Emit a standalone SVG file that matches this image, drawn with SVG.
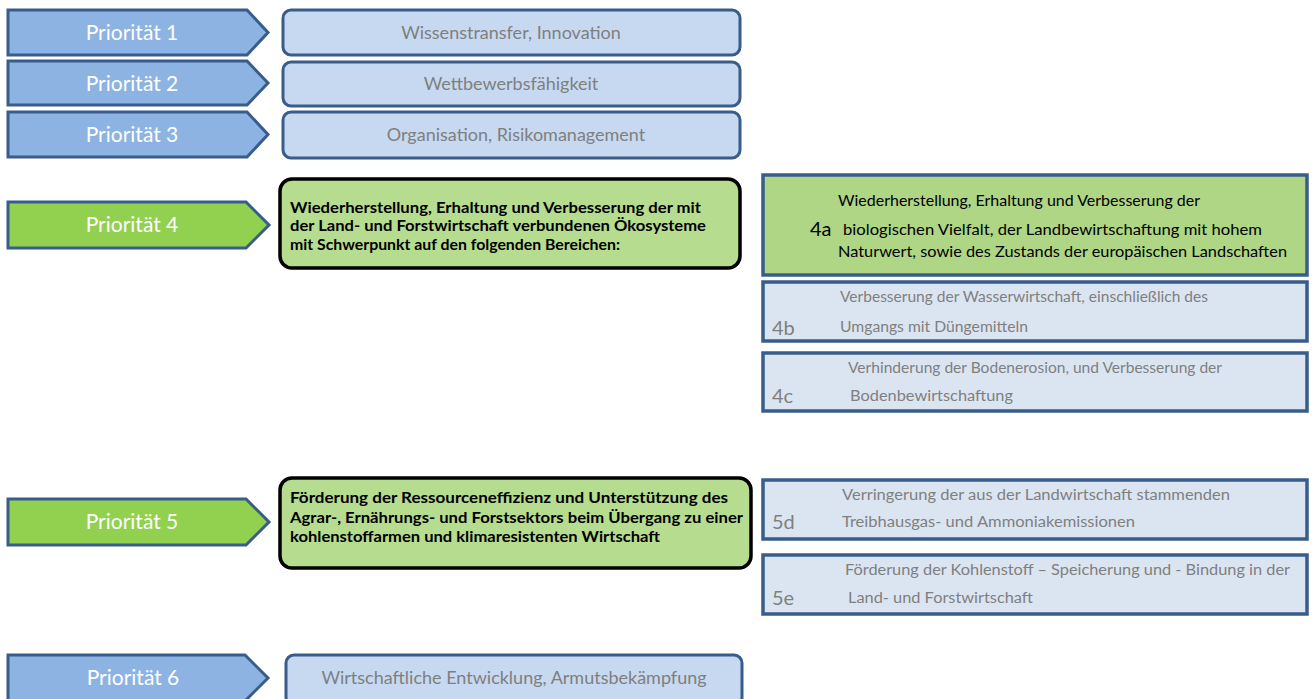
<svg xmlns="http://www.w3.org/2000/svg" width="1313" height="699" viewBox="0 0 1313 699">
<style>
.bg{fill:#ffffff}
.chev{fill:#8db3e2;stroke:#385d8a;stroke-width:3;stroke-linejoin:miter}
.chevg{fill:#92d050;stroke:#385d8a;stroke-width:3;stroke-linejoin:miter}
.box{fill:#c6d9f1;stroke:#385d8a;stroke-width:3}
.gbox{fill:#b6dc8f;stroke:#000000;stroke-width:3.5}
.abox{fill:#aed685;stroke:#385d8a;stroke-width:3.5}
.lbox{fill:#dbe5f1;stroke:#385d8a;stroke-width:3.5}
.ct{font-family:Lato,"Liberation Sans",sans-serif;font-size:21px;fill:#ffffff;text-anchor:middle}
.bt{font-family:Lato,"Liberation Sans",sans-serif;font-size:18px;fill:#7f7f7f;text-anchor:middle}
.kt{font-family:Lato,"Liberation Sans",sans-serif;font-size:15.5px;font-weight:bold;fill:#000000}
.at{font-family:Lato,"Liberation Sans",sans-serif;font-size:16px;fill:#000000}
.gt{font-family:Lato,"Liberation Sans",sans-serif;font-size:15.5px;fill:#7f7f7f}
.num{font-family:Lato,"Liberation Sans",sans-serif;font-size:20px;fill:#7f7f7f}
.numa{font-family:Lato,"Liberation Sans",sans-serif;font-size:20px;fill:#000000}
</style>
<rect class="bg" x="0" y="0" width="1313" height="699"/>
<g id="p1">
<polygon class="chev" points="8,10 247,10 268,32.5 247,55 8,55"/>
<text class="ct" x="132" y="40">Priorität 1</text>
</g>
<g id="b1">
<rect class="box" x="283" y="10" width="457" height="45" rx="8"/>
<text class="bt" x="511" y="39">Wissenstransfer, Innovation</text>
</g>
<g id="p2">
<polygon class="chev" points="8,61 247,61 268,83 247,105 8,105"/>
<text class="ct" x="132" y="91">Priorität 2</text>
</g>
<g id="b2">
<rect class="box" x="283" y="62" width="457" height="44" rx="8"/>
<text class="bt" x="511" y="90">Wettbewerbsfähigkeit</text>
</g>
<g id="p3">
<polygon class="chev" points="8,112 247,112 268,134.5 247,157 8,157"/>
<text class="ct" x="132" y="142">Priorität 3</text>
</g>
<g id="b3">
<rect class="box" x="283" y="112" width="457" height="46" rx="8"/>
<text class="bt" x="516" y="141">Organisation, Risikomanagement</text>
</g>
<g id="p4">
<polygon class="chevg" points="8,202 246,202 269,225 246,248 8,248"/>
<text class="ct" x="132" y="232">Priorität 4</text>
</g>
<g id="b4">
<rect class="gbox" x="280" y="179" width="460" height="89" rx="12"/>
<text class="kt" x="290" y="213" textLength="411" lengthAdjust="spacingAndGlyphs">Wiederherstellung, Erhaltung und Verbesserung der mit</text>
<text class="kt" x="290" y="231" textLength="416" lengthAdjust="spacingAndGlyphs">der Land- und Forstwirtschaft verbundenen Ökosysteme</text>
<text class="kt" x="290" y="250" textLength="330" lengthAdjust="spacingAndGlyphs">mit Schwerpunkt auf den folgenden Bereichen:</text>
</g>
<g id="s4a">
<rect class="abox" x="763" y="175" width="544" height="100"/>
<text class="numa" x="810" y="236">4a</text>
<text class="at" x="838" y="206" textLength="362" lengthAdjust="spacingAndGlyphs">Wiederherstellung, Erhaltung und Verbesserung der</text>
<text class="at" x="843" y="235" textLength="419" lengthAdjust="spacingAndGlyphs">biologischen Vielfalt, der Landbewirtschaftung mit hohem</text>
<text class="at" x="838" y="257" textLength="449" lengthAdjust="spacingAndGlyphs">Naturwert, sowie des Zustands der europäischen Landschaften</text>
</g>
<g id="s4b">
<rect class="lbox" x="763" y="282" width="544" height="59"/>
<text class="num" x="772" y="335">4b</text>
<text class="gt" x="840" y="302" textLength="368" lengthAdjust="spacingAndGlyphs">Verbesserung der Wasserwirtschaft, einschließlich des</text>
<text class="gt" x="840" y="332" textLength="188" lengthAdjust="spacingAndGlyphs">Umgangs mit Düngemitteln</text>
</g>
<g id="s4c">
<rect class="lbox" x="763" y="353" width="544" height="58"/>
<text class="num" x="772" y="403">4c</text>
<text class="gt" x="848" y="373" textLength="374" lengthAdjust="spacingAndGlyphs">Verhinderung der Bodenerosion, und Verbesserung der</text>
<text class="gt" x="850" y="401" textLength="163" lengthAdjust="spacingAndGlyphs">Bodenbewirtschaftung</text>
</g>
<g id="p5">
<polygon class="chevg" points="8,499 246,499 269,522 246,545 8,545"/>
<text class="ct" x="132" y="529">Priorität 5</text>
</g>
<g id="b5">
<rect class="gbox" x="280" y="478" width="471" height="90" rx="12"/>
<text class="kt" x="290" y="503" textLength="438" lengthAdjust="spacingAndGlyphs">Förderung der Ressourceneffizienz und Unterstützung des</text>
<text class="kt" x="290" y="523" textLength="453" lengthAdjust="spacingAndGlyphs">Agrar-, Ernährungs- und Forstsektors beim Übergang zu einer</text>
<text class="kt" x="290" y="542" textLength="370" lengthAdjust="spacingAndGlyphs">kohlenstoffarmen und klimaresistenten Wirtschaft</text>
</g>
<g id="s5d">
<rect class="lbox" x="763" y="480" width="544" height="59"/>
<text class="num" x="772" y="529">5d</text>
<text class="gt" x="842" y="500" textLength="388" lengthAdjust="spacingAndGlyphs">Verringerung der aus der Landwirtschaft stammenden</text>
<text class="gt" x="842" y="527" textLength="293" lengthAdjust="spacingAndGlyphs">Treibhausgas- und Ammoniakemissionen</text>
</g>
<g id="s5e">
<rect class="lbox" x="763" y="555" width="544" height="59"/>
<text class="num" x="772" y="605">5e</text>
<text class="gt" x="845" y="575" textLength="445" lengthAdjust="spacingAndGlyphs">Förderung der Kohlenstoff – Speicherung und - Bindung in der</text>
<text class="gt" x="848" y="603" textLength="185" lengthAdjust="spacingAndGlyphs">Land- und Forstwirtschaft</text>
</g>
<g id="p6">
<polygon class="chev" points="8,655 245,655 268,678 245,701 8,701"/>
<text class="ct" x="133" y="685">Priorität 6</text>
</g>
<g id="b6">
<rect class="box" x="286" y="655" width="456" height="50" rx="8"/>
<text class="bt" x="514" y="684">Wirtschaftliche Entwicklung, Armutsbekämpfung</text>
</g>
<g id="connectors"></g>
</svg>
